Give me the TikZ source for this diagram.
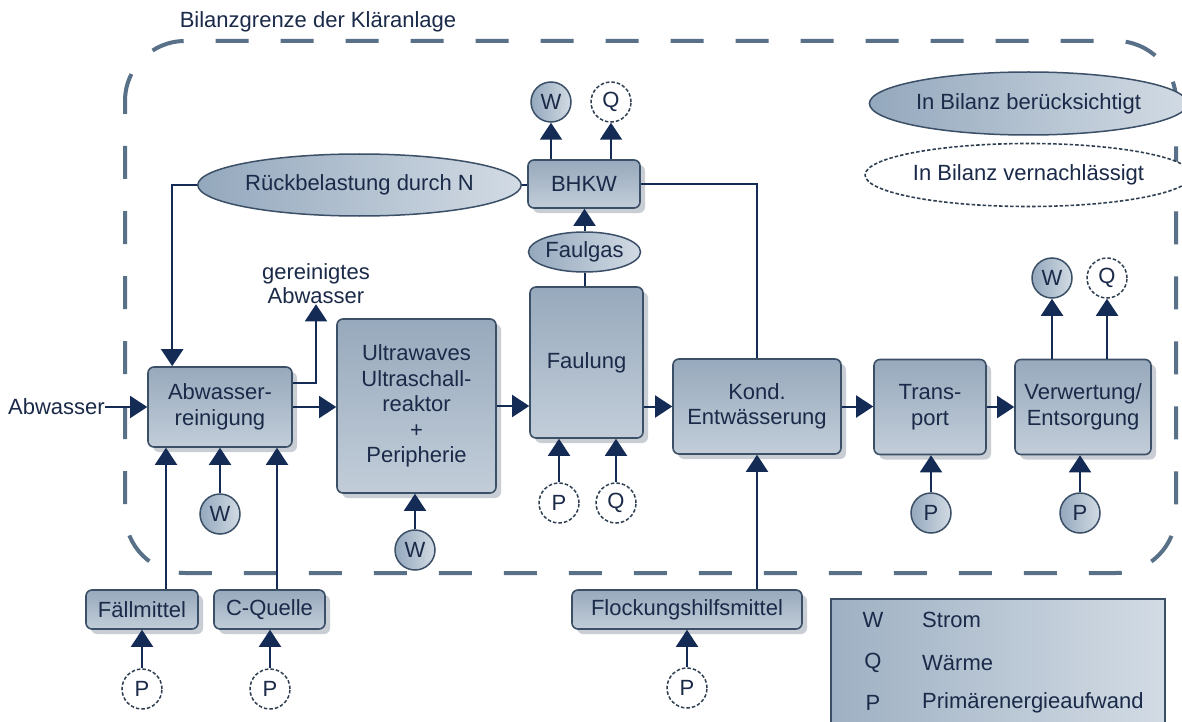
\documentclass[tikz,border=0pt]{standalone}
\usepackage{fontspec}
\setmainfont{Liberation Sans}
\usetikzlibrary{shapes.geometric,arrows.meta,shadows,calc}
\definecolor{txt}{HTML}{1A2A48}
\definecolor{bord}{HTML}{3B4F66}
\definecolor{linec}{HTML}{142C55}
\definecolor{boxtop}{HTML}{97A9BC}
\definecolor{boxbot}{HTML}{C2CDD9}
\definecolor{shadowc}{HTML}{C9CED5}
\definecolor{ellL}{HTML}{94A8BD}
\definecolor{ellR}{HTML}{D2DBE4}
\definecolor{bound}{HTML}{587088}
\begin{document}
\begin{tikzpicture}[x=1pt,y=-1pt,
  font=\fontsize{22}{25.5}\selectfont,
  box/.style={draw=bord, line width=1.6pt, rounded corners=6pt, top color=boxtop, bottom color=boxbot,
    text=txt, align=center, inner sep=0pt,
    drop shadow={shadow xshift=5pt, shadow yshift=-5pt, fill=shadowc, opacity=1}},
  ell/.style={ellipse, draw=bord, line width=1.5pt, left color=ellL, right color=ellR, text=txt, inner sep=0pt},
  dell/.style={ellipse, draw=bord!80!black, line width=1.6pt, dash pattern=on 3.5pt off 2pt, fill=white, text=txt, inner sep=0pt},
  circ/.style={circle, minimum size=40pt, inner sep=0pt, draw=bord, line width=1.5pt, left color=ellL, right color=ellR, text=txt},
  dcirc/.style={circle, minimum size=40pt, inner sep=0pt, draw=bord!80!black, line width=1.5pt, dash pattern=on 3.5pt off 2pt, fill=white, text=txt},
  arr/.style={draw=linec, line width=2pt, -{Triangle[length=17pt,width=22pt]}},
  ln/.style={draw=linec, line width=2pt},
  lbl/.style={text=txt, inner sep=0pt, align=center}
]
\useasboundingbox (0,0) rectangle (1182,722);
\fill[white] (0,0) rectangle (1182,722);

% boundary
\draw[bound, line width=4pt, dash pattern=on 33pt off 32pt, dash phase=20pt, rounded corners=60pt] (125,41) rectangle (1176,573);
\node[lbl] (title) at (318,22) {Bilanzgrenze der Kläranlage};

% main boxes
\node[box, minimum width=144pt, minimum height=80pt] (abw) at (220,407) {Abwasser-\\reinigung};
\node[box, minimum width=159pt, minimum height=174pt] (ultra) at (416.5,406) {Ultrawaves\\Ultraschall-\\reaktor\\+\\Peripherie};
\node[box, minimum width=113pt, minimum height=151pt] (faul) at (586.5,362.5) {Faulung};
\node[box, minimum width=112pt, minimum height=48pt] (bhkw) at (584,184) {BHKW};
\node[box, minimum width=168pt, minimum height=95pt] (kond) at (757,406.5) {Kond.\\Entwässerung};
\node[box, minimum width=112pt, minimum height=95pt] (trans) at (930,407) {Trans-\\port};
\node[box, minimum width=136pt, minimum height=95pt] (verw) at (1083,407) {Verwertung/\\Entsorgung};
\node[box, minimum width=112pt, minimum height=39pt] (fall) at (142,609.5) {Fällmittel};
\node[box, minimum width=111pt, minimum height=39pt] (cq) at (269.5,609.5) {C-Quelle};
\node[box, minimum width=230pt, minimum height=39pt] (flock) at (687,609.5) {Flockungshilfsmittel};

% ellipses
\node[ell, minimum width=261pt, minimum height=62pt] (rueck) at (359.5,185) {Rückbelastung durch N};
\node[ell, minimum width=112pt, minimum height=40pt] (faulgas) at (584.5,252) {Faulgas};
\node[ell, minimum width=263pt, minimum height=63pt] (legA) at (1028.5,103.5) {In Bilanz berücksichtigt};
\node[dell, minimum width=263pt, minimum height=63pt] (legB) at (1028.5,175) {In Bilanz vernachlässigt};

% labels
\node[lbl, anchor=east] (abwin) at (105,407) {Abwasser};
\node[lbl, font=\fontsize{22}{24}\selectfont] (ger) at (316,284) {gereinigtes\\Abwasser};

% circles
\node[circ] (wb) at (551,102) {W};
\node[dcirc] (qb) at (611,102) {Q};
\node[circ] (wa) at (220,514) {W};
\node[circ] (wu) at (415,550) {W};
\node[dcirc] (pf) at (559,503) {P};
\node[dcirc] (qf) at (616,503) {Q};
\node[circ] (pt) at (931,513) {P};
\node[circ] (pv) at (1080,513) {P};
\node[circ] (wv) at (1052,278) {W};
\node[dcirc] (qv) at (1107,278) {Q};
\node[dcirc] (pfa) at (142,689) {P};
\node[dcirc] (pcq) at (270,689) {P};
\node[dcirc] (pfl) at (687,688) {P};

% legend box
\node[draw=bord, line width=1.8pt, left color=ellL!90!white, right color=ellR, minimum width=334pt, minimum height=150pt, anchor=north west, inner sep=0pt] (leg) at (830,598) {};
\node[lbl] (lw) at (873,620) {W};
\node[lbl, anchor=west] (lws) at (922,620) {Strom};
\node[lbl] (lq) at (873,663) {Q};
\node[lbl, anchor=west] (lqs) at (922,663) {Wärme};
\node[lbl] (lp) at (873,703) {P};
\node[lbl, anchor=west] (lps) at (922,703) {Primärenergieaufwand};

% helper coordinates
\coordinate (gerstart) at ($(abw.east)+(0,-24)$);
\coordinate (rueckend) at ($(abw.north west)+(25,0)$);
\coordinate (fallout) at ($(fall.north)+(24,0)$);
\coordinate (cqout) at ($(cq.north)+(7.5,0)$);

% main flow
\draw[arr] (abwin.east) -- (abw.west);
\draw[arr] (abw.east) -- (ultra.west |- abw.east);
\draw[arr] (ultra.east) -- (faul.west |- ultra.east);
\draw[arr] (faul.east |- kond.west) -- (kond.west);
\draw[arr] (kond.east) -- (trans.west |- kond.east);
\draw[arr] (trans.east) -- (verw.west);

% gereinigtes Abwasser
\draw[arr] (gerstart) -| (ger.south);

% Rueckbelastung
\draw[ln] (bhkw.west |- rueck.east) -- (rueck.east);
\draw[arr] (rueck.west) -| (rueckend);
\draw[ln] (bhkw.east) -| (kond.north);

% Faulgas
\draw[ln] (faul.north -| faulgas.south) -- (faulgas.south);
\draw[arr] (faulgas.north) -- (bhkw.south -| faulgas.north);

% BHKW outputs
\draw[arr] (bhkw.north -| wb.south) -- (wb.south);
\draw[arr] (bhkw.north -| qb.south) -- (qb.south);
% Verwertung outputs
\draw[arr] (verw.north -| wv.south) -- (wv.south);
\draw[arr] (verw.north -| qv.south) -- (qv.south);

% inputs from below
\draw[arr] (fallout) -- (fallout |- abw.south);
\draw[arr] (cqout) -- (cqout |- abw.south);
\draw[arr] (wa.north) -- (abw.south -| wa.north);
\draw[arr] (wu.north) -- (ultra.south -| wu.north);
\draw[arr] (pf.north) -- (faul.south -| pf.north);
\draw[arr] (qf.north) -- (faul.south -| qf.north);
\draw[arr] (kond.south |- flock.north) -- (kond.south);
\draw[arr] (pt.north) -- (trans.south -| pt.north);
\draw[arr] (pv.north) -- (verw.south -| pv.north);
\draw[arr] (pfa.north) -- (fall.south -| pfa.north);
\draw[arr] (pcq.north) -- (cq.south -| pcq.north);
\draw[arr] (pfl.north) -- (flock.south -| pfl.north);
\end{tikzpicture}
\end{document}
